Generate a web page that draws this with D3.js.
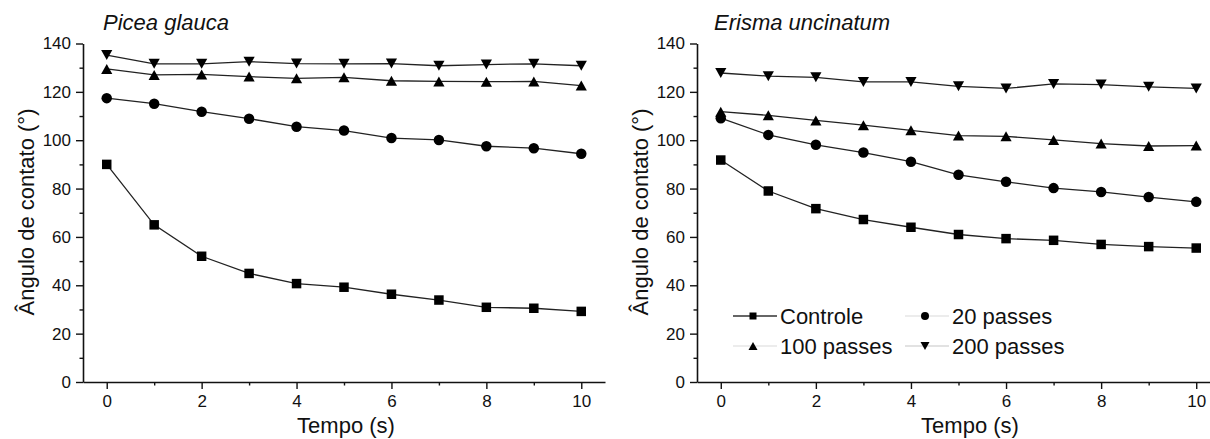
<!DOCTYPE html>
<html>
<head>
<meta charset="utf-8">
<script src="https://cdn.jsdelivr.net/npm/d3@7/dist/d3.min.js"></script>
<style>
  html, body { margin: 0; padding: 0; background: #fff; }
  svg { display: block; font-family: "Liberation Sans", Arial, sans-serif; }
</style>
</head>
<body>
<svg id="chart" width="1210" height="439"></svg>
<script>
// Time points (s)
const tempo = [0, 1, 2, 3, 4, 5, 6, 7, 8, 9, 10];

// Picea glauca — contact angle (°)
const piceaControle = [90.0, 65.0, 52.0, 44.9, 40.7, 39.2, 36.3, 33.9, 30.9, 30.5, 29.2];
const picea20 = [117.4, 115.1, 111.8, 108.9, 105.6, 104.0, 100.9, 100.1, 97.5, 96.7, 94.4];
const picea100 = [129.5, 127.0, 127.2, 126.3, 125.6, 126.0, 124.6, 124.3, 124.2, 124.3, 122.6];
const picea200 = [135.2, 131.6, 131.6, 132.5, 131.7, 131.6, 131.7, 130.8, 131.3, 131.6, 130.8];

// Erisma uncinatum — contact angle (°)
const erismaControle = [91.8, 79.0, 71.7, 67.2, 64.0, 61.0, 59.3, 58.6, 56.9, 56.0, 55.4];
const erisma20 = [109.1, 102.2, 98.1, 94.9, 91.1, 85.7, 82.8, 80.2, 78.6, 76.5, 74.5];
const erisma100 = [111.8, 110.3, 108.2, 106.2, 104.1, 101.9, 101.6, 100.1, 98.6, 97.6, 97.8];
const erisma200 = [127.8, 126.5, 126.0, 124.1, 124.1, 122.3, 121.4, 123.3, 123.0, 122.1, 121.4];

// Series names and tick values
const seriesNames = ["Controle", "20 passes", "100 passes", "200 passes"];
const seriesShapes = ["square", "circle", "up", "down"];
const xMajorTicks = [0, 2, 4, 6, 8, 10];
const xMinorTicks = [1, 3, 5, 7, 9];
const yMajorTicks = [0, 20, 40, 60, 80, 100, 120, 140];
const yMinorTicks = [10, 30, 50, 70, 90, 110, 130];

const svg = d3.select("#chart");
const ink = "#111";
const lineInk = "#222";

// Marker path generator (bbox centred)
function markerPath(shape, s) {
  const h = s / 2;
  if (shape === "square") return `M${-h},${-h}H${h}V${h}H${-h}Z`;
  if (shape === "circle") return d3.symbol(d3.symbolCircle, Math.PI * h * h)();
  const w = h * 1.12;
  if (shape === "up") return `M0,${-h}L${w},${h}L${-w},${h}Z`;
  return `M0,${h}L${w},${-h}L${-w},${-h}Z`;
}

function drawPanel(opts) {
  const g = svg.append("g");
  const x = d3.scaleLinear().domain([-0.5, 10.5]).range([opts.x0, opts.x1]);
  const y = d3.scaleLinear().domain([0, 140]).range([382, 43.5]);

  // y axis (major + minor)
  g.append("g").attr("transform", `translate(${opts.x0},0)`)
    .call(d3.axisLeft(y).tickValues(yMajorTicks).tickSize(7).tickPadding(5).tickSizeOuter(0));
  g.append("g").attr("transform", `translate(${opts.x0},0)`)
    .call(d3.axisLeft(y).tickValues(yMinorTicks).tickSize(3.5).tickFormat("").tickSizeOuter(0))
    .select(".domain").remove();

  // x axis (major + minor)
  g.append("g").attr("transform", `translate(0,382)`)
    .call(d3.axisBottom(x).tickValues(xMajorTicks).tickSize(7).tickPadding(6).tickSizeOuter(0));
  g.append("g").attr("transform", `translate(0,382)`)
    .call(d3.axisBottom(x).tickValues(xMinorTicks).tickSize(3.5).tickFormat("").tickSizeOuter(0))
    .select(".domain").remove();

  g.selectAll(".domain").attr("stroke", ink).attr("stroke-width", 1.6);
  g.selectAll(".tick line").attr("stroke", ink).attr("stroke-width", 1.4);
  g.selectAll(".tick text").attr("fill", ink).style("font-size", "17px")
    .style("font-family", "'Liberation Sans', Arial, sans-serif");

  // axis titles
  g.append("text")
    .attr("x", opts.xTitleX).attr("y", 433)
    .attr("text-anchor", "middle")
    .attr("fill", ink).style("font-size", "22px")
    .text("Tempo (s)");
  g.append("text")
    .attr("transform", `translate(${opts.yTitleX},212) rotate(-90)`)
    .attr("text-anchor", "middle")
    .attr("fill", ink).style("font-size", "22px")
    .text("Ângulo de contato (°)");

  // panel title
  g.append("text")
    .attr("x", opts.titleX).attr("y", 30)
    .attr("fill", ink).style("font-size", "22px").style("font-style", "italic")
    .text(opts.title);

  // series
  const line = d3.line().x((d, i) => x(tempo[i])).y(d => y(d));
  opts.series.forEach((vals, k) => {
    g.append("path").datum(vals)
      .attr("d", line).attr("fill", "none")
      .attr("stroke", lineInk).attr("stroke-width", 1.3);
    g.selectAll(null).data(vals).enter().append("path")
      .attr("transform", (d, i) => `translate(${x(tempo[i])},${y(d)})`)
      .attr("d", markerPath(seriesShapes[k], seriesShapes[k] === "circle" ? 10.5 : (seriesShapes[k] === "square" ? 9.5 : 10)))
      .attr("fill", "#000");
  });
  return { x, y, g };
}

drawPanel({
  x0: 83, x1: 605, xTitleX: 346, yTitleX: 34, titleX: 103,
  title: "Picea glauca",
  series: [piceaControle, picea20, picea100, picea200]
});

drawPanel({
  x0: 697, x1: 1220, xTitleX: 970, yTitleX: 648, titleX: 714,
  title: "Erisma uncinatum",
  series: [erismaControle, erisma20, erisma100, erisma200]
});

// Legend (2 x 2)
const legendItems = [
  { name: seriesNames[0], shape: seriesShapes[0], lx: 733, ly: 316, lineColor: "#333" },
  { name: seriesNames[1], shape: seriesShapes[1], lx: 905, ly: 316, lineColor: "#e6e6e6" },
  { name: seriesNames[2], shape: seriesShapes[2], lx: 733, ly: 346, lineColor: "#e6e6e6" },
  { name: seriesNames[3], shape: seriesShapes[3], lx: 905, ly: 346, lineColor: "#d8d8d8" }
];
const leg = svg.append("g");
legendItems.forEach(it => {
  leg.append("line")
    .attr("x1", it.lx).attr("x2", it.lx + 44)
    .attr("y1", it.ly).attr("y2", it.ly)
    .attr("stroke", it.lineColor).attr("stroke-width", 1.3);
  leg.append("path")
    .attr("transform", `translate(${it.lx + 20},${it.ly})`)
    .attr("d", markerPath(it.shape, it.shape === "square" ? 7 : 8))
    .attr("fill", "#000");
  leg.append("text")
    .attr("x", it.lx + 47).attr("y", it.ly + 8)
    .attr("fill", ink).style("font-size", "22px")
    .text(it.name);
});
</script>
</body>
</html>
